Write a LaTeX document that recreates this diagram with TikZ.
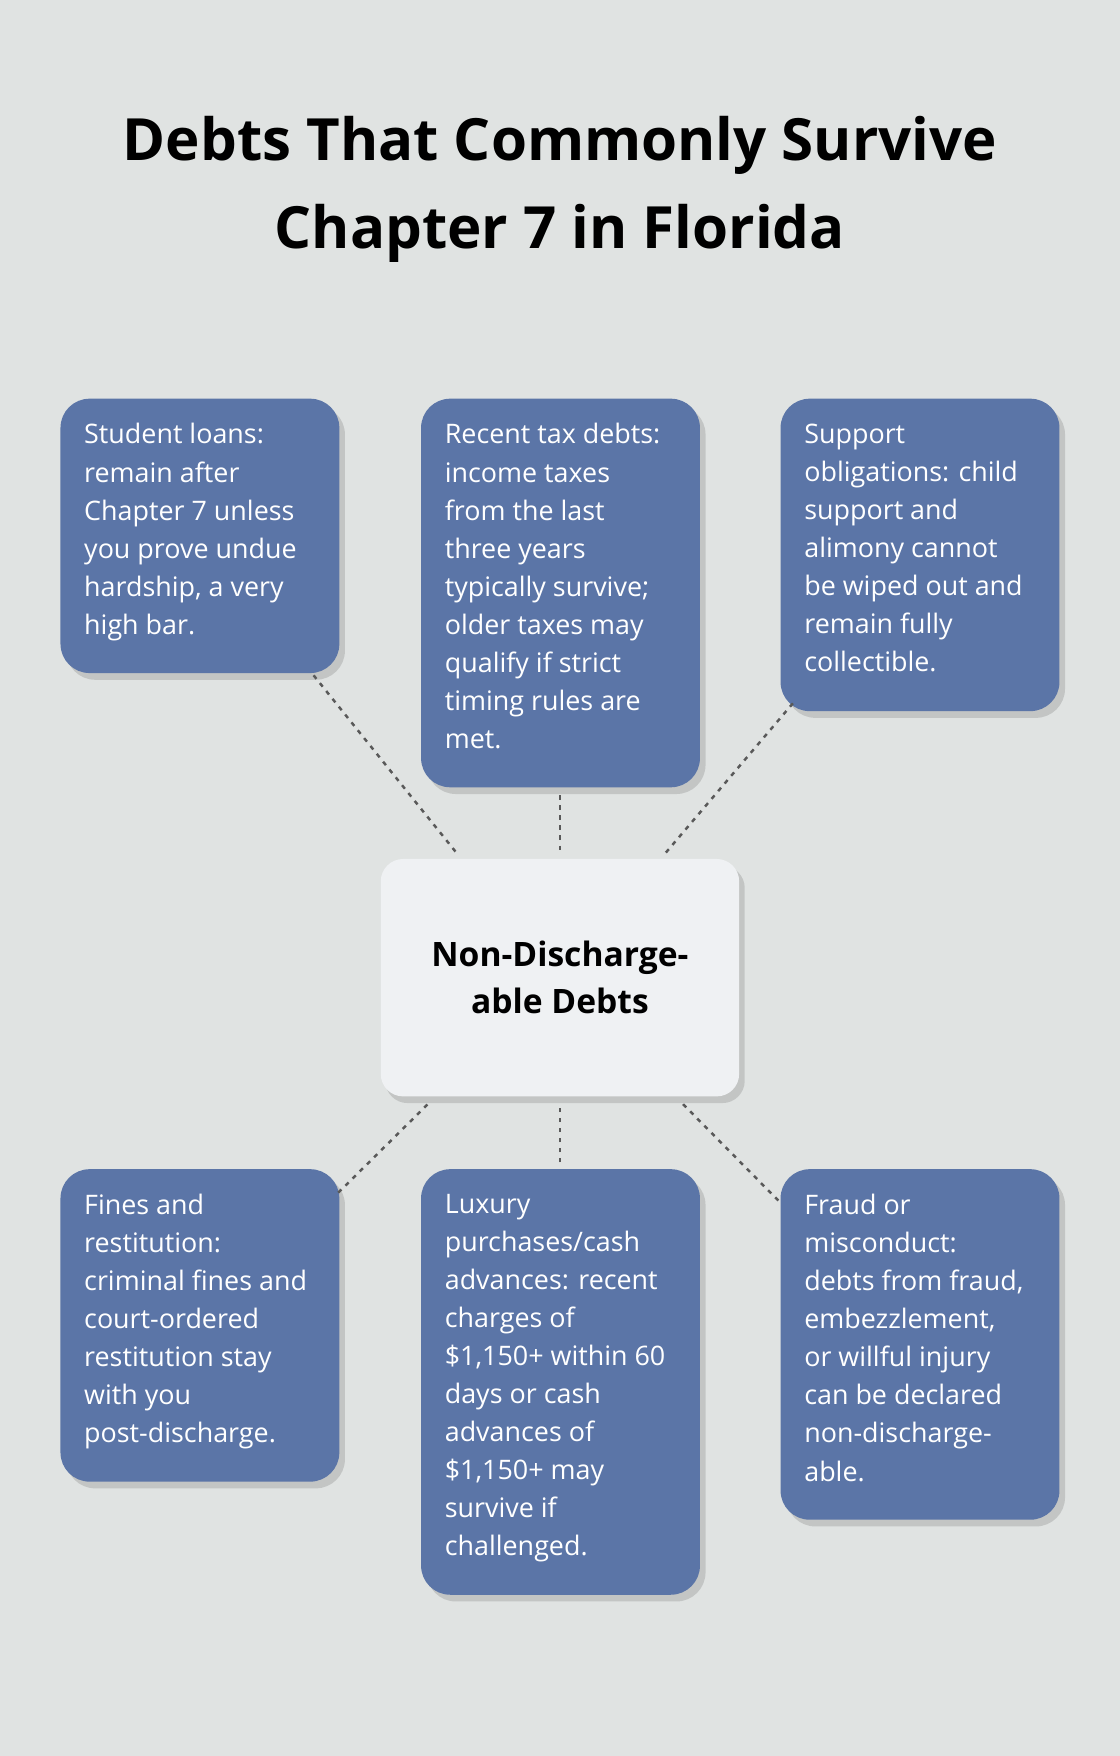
\documentclass[tikz,border=0pt]{standalone}
\usepackage{fontspec}
\setmainfont{Open Sans}
\definecolor{bg}{HTML}{E0E3E2}
\definecolor{boxc}{HTML}{5B75A7}
\definecolor{cen}{HTML}{EFF1F3}
\begin{document}
\begin{tikzpicture}[x=1pt,y=-1pt,
  box/.style={draw=none,fill=boxc,rounded corners=26pt},
  shad/.style={fill=black,opacity=0.13,rounded corners=26pt},
  txt/.style={anchor=north west,inner sep=0pt,align=left,text=white,font=\fontsize{24}{34}\selectfont},
  conn/.style={draw=black!65,line width=2.2pt,dash pattern=on 4pt off 5pt}]
\fill[bg] (0,0) rectangle (1000,1568);
\useasboundingbox (0,0) rectangle (1000,1568);
\node[font=\bfseries\fontsize{52}{78}\selectfont,align=center,inner sep=0] (title) at (500,169) {Debts That Commonly Survive\\Chapter 7 in Florida};
% shadows
\foreach \a/\b/\c/\d in {54/356/303/601,376/356/625/703,697/356/946/635,54/1044/303/1323,376/1044/625/1424,697/1044/946/1357}
  \fill[shad] (\a+5,\b+6) rectangle (\c+5,\d+6);
\fill[shad,rounded corners=20pt] (344,773) rectangle (665,985);
\path[box] (54,356) rectangle (303,601) node[pos=0,coordinate] (b1) {};
\path[box] (376,356) rectangle (625,703);
\path[box] (697,356) rectangle (946,635);
\path[box] (54,1044) rectangle (303,1323);
\path[box] (376,1044) rectangle (625,1424);
\path[box] (697,1044) rectangle (946,1357);
\node[fill=cen,rounded corners=20pt,minimum width=320pt,minimum height=212pt,inner sep=0,
  font=\bfseries\fontsize{30}{42}\selectfont,align=center] (center) at (500,873) {Non-Discharge-\\able Debts};
\node[txt] (t1) at (75,378) {Student loans:\\remain after\\Chapter 7 unless\\you prove undue\\hardship, a very\\high bar.};
\node[txt] (t2) at (397,378) {Recent tax debts:\\income taxes\\from the last\\three years\\typically survive;\\older taxes may\\qualify if strict\\timing rules are\\met.};
\node[txt] (t3) at (718,378) {Support\\obligations: child\\support and\\alimony cannot\\be wiped out and\\remain fully\\collectible.};
\node[txt] (t4) at (75,1066) {Fines and\\restitution:\\criminal fines and\\court-ordered\\restitution stay\\with you\\post-discharge.};
\node[txt] (t5) at (397,1066) {Luxury\\purchases/cash\\advances: recent\\charges of\\\$1,150+ within 60\\days or cash\\advances of\\\$1,150+ may\\survive if\\challenged.};
\node[txt] (t6) at (718,1066) {Fraud or\\misconduct:\\debts from fraud,\\embezzlement,\\or willful injury\\can be declared\\non-discharge-\\able.};
\coordinate (a1) at (280,603); \coordinate (c1) at (408,762);
\coordinate (a2) at (500,710); \coordinate (c2) at (500,762);
\coordinate (a3) at (708,628); \coordinate (c3) at (594,762);
\coordinate (a4) at (302,1065); \coordinate (c4) at (385,983);
\coordinate (a5) at (500,1038); \coordinate (c5) at (500,987);
\coordinate (a6) at (695,1072); \coordinate (c6) at (607,983);
\foreach \i in {1,...,6} \draw[conn] (a\i) -- (c\i);
\end{tikzpicture}
\end{document}
